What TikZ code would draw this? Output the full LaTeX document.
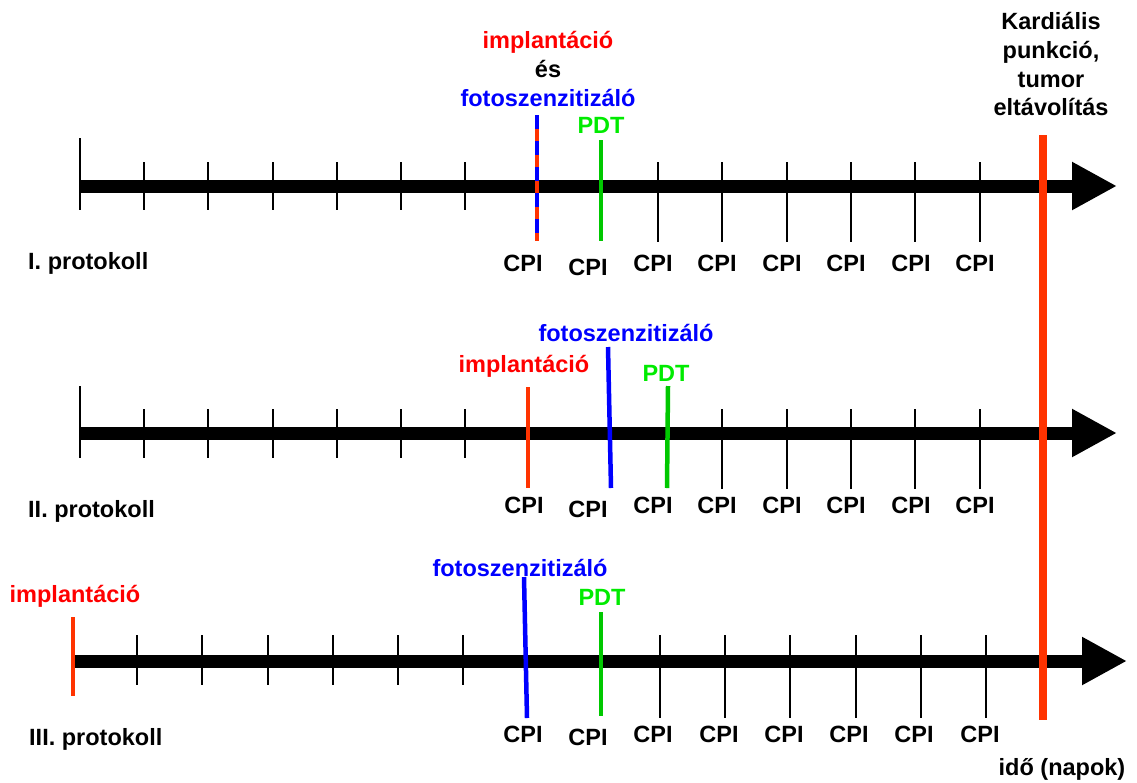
\documentclass[tikz,border=0pt]{standalone}
\usepackage{fontspec}
\setmainfont{Liberation Sans}
\usetikzlibrary{arrows.meta}

\definecolor{markred}{RGB}{255,51,0}
\definecolor{textred}{RGB}{255,0,0}
\definecolor{markblue}{RGB}{0,0,255}
\definecolor{markgreen}{RGB}{0,200,0}
\definecolor{textgreen}{RGB}{0,235,0}

\tikzset{
  lbl/.style={inner sep=0pt, anchor=base, font=\fontsize{23.5}{28}\selectfont\bfseries},
  lblw/.style={lbl, anchor=base west},
  timeaxis/.style={line width=13pt, -{Triangle[length=45pt,width=45pt]}},
  tick/.style={line width=2.5pt},
  marker/.style={line width=4.5pt},
  endline/.style={line width=7.5pt, markred}
}

\begin{document}
\begin{tikzpicture}[x=1pt,y=-1pt]
\useasboundingbox (0,0) rectangle (1137,782);

% ---------- I. protokoll ----------
\draw[timeaxis] (80,186) -- (1117,186);
\draw[tick] (80,138) -- (80,210);
\foreach \x in {144,208,273,337,401,465} \draw[tick] (\x,162) -- (\x,210);
\foreach \x in {658,722,787,851,915,980} \draw[tick] (\x,162) -- (\x,242);
\draw[marker, markred] (537,115) -- (537,241);
\draw[marker, markblue, dash pattern=on 14pt off 12pt] (537,115) -- (537,241);
\draw[marker, markgreen] (601,140) -- (601,241);
\node[lbl, textred] (i1) at (548,48) {implantáció};
\node[lbl] (es1) at (548,77) {és};
\node[lbl, markblue] (f1) at (548,106) {fotoszenzitizáló};
\node[lbl, textgreen] (p1) at (601,133) {PDT};
\node[lblw] (prot1) at (28,269) {I. protokoll};
\foreach \x [count=\i] in {523,588,653,717,782,846,911,975}
  \node[lbl] (cpiA\i) at (\x,{\i==2 ? 275 : 271}) {CPI};

% ---------- II. protokoll ----------
\draw[timeaxis] (80,433) -- (1117,433);
\draw[tick] (80,386) -- (80,458);
\foreach \x in {144,208,273,337,401,465} \draw[tick] (\x,409) -- (\x,458);
\foreach \x in {722,787,851,915,980} \draw[tick] (\x,409) -- (\x,489);
\draw[marker, markred] (528,387) -- (528,488);
\draw[marker, markblue] (608,347) -- (611,488);
\draw[marker, markgreen] (668,386) -- (667,488);
\node[lbl, textred] (i2) at (524,372) {implantáció};
\node[lbl, markblue] (f2) at (626,341) {fotoszenzitizáló};
\node[lbl, textgreen] (p2) at (666,381) {PDT};
\node[lblw] (prot2) at (28,517) {II. protokoll};
\foreach \x [count=\i] in {524,588,653,717,782,846,911,975}
  \node[lbl] (cpiB\i) at (\x,{\i==2 ? 517 : 513}) {CPI};

% ---------- III. protokoll ----------
\draw[timeaxis] (73,661) -- (1127,661);
\foreach \x in {137,202,268,333,398,463} \draw[tick] (\x,635) -- (\x,685);
\foreach \x in {660,725,790,856,921,986} \draw[tick] (\x,635) -- (\x,718);
\draw[marker, markred] (73,617) -- (73,696);
\draw[marker, markblue] (524,577) -- (527,718);
\draw[marker, markgreen] (601,612) -- (601,716);
\node[lbl, textred] (i3) at (75,602) {implantáció};
\node[lbl, markblue] (f3) at (520,576) {fotoszenzitizáló};
\node[lbl, textgreen] (p3) at (602,605) {PDT};
\node[lblw] (prot3) at (29,745) {III. protokoll};
\foreach \x [count=\i] in {523,588,653,719,784,849,914,980}
  \node[lbl] (cpiC\i) at (\x,{\i==2 ? 745 : 742}) {CPI};

% ---------- end point across all protocols ----------
\draw[endline] (1043,135) -- (1043,720);
\node[lbl] (k1) at (1051,29) {Kardiális};
\node[lbl] (k2) at (1051,58) {punkció,};
\node[lbl] (k3) at (1051,87) {tumor};
\node[lbl] (k4) at (1051,115) {eltávolítás};
\node[lbl] (ido) at (1062,775) {idő (napok)};
\end{tikzpicture}
\end{document}
